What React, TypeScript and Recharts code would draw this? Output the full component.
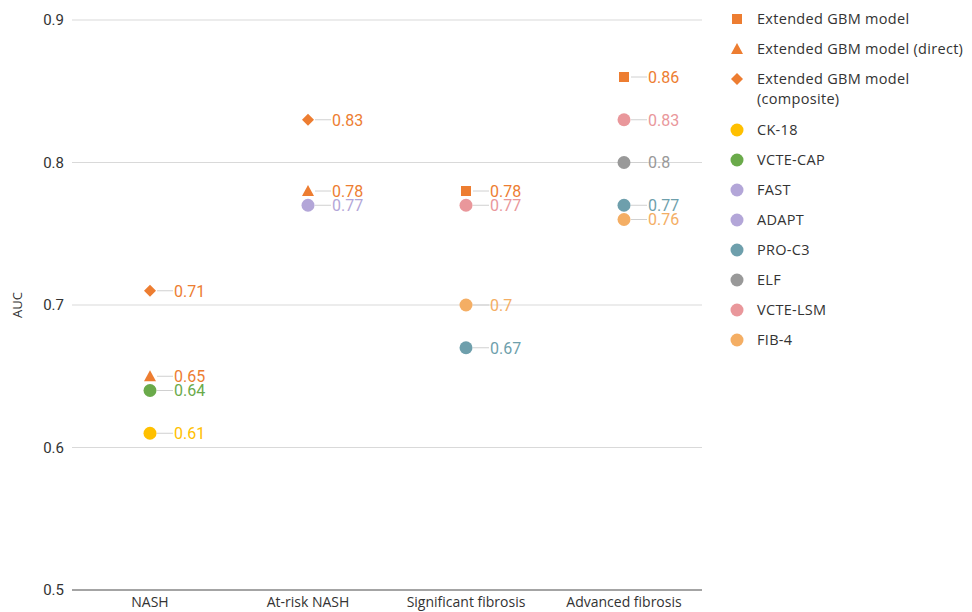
import React from "react";
import { CartesianGrid, ComposedChart, Line, XAxis, YAxis } from "recharts";

const categories = ["NASH", "At-risk NASH", "Significant fibrosis", "Advanced fibrosis"];
const yTicks = [0.5, 0.6, 0.7, 0.8, 0.9];

// one value per category, null = not reported
const gbmModel = [null, null, 0.78, 0.86];
const gbmDirect = [0.65, 0.78, null, null];
const gbmComposite = [0.71, 0.83, null, null];
const ck18 = [0.61, null, null, null];
const vcteCap = [0.64, null, null, null];
const fast = [null, 0.77, null, null];
const adapt = [null, null, null, null];
const proC3 = [null, null, 0.67, 0.77];
const elf = [null, null, null, 0.8];
const vcteLsm = [null, null, 0.77, 0.83];
const fib4 = [null, null, 0.7, 0.76];

type Shape = "square" | "triangle" | "diamond" | "circle";

const series: { key: string; name: string; shape: Shape; color: string; values: (number | null)[] }[] = [
  { key: "gbm", name: "Extended GBM model", shape: "square", color: "#ed7d31", values: gbmModel },
  { key: "gbmDirect", name: "Extended GBM model (direct)", shape: "triangle", color: "#ed7d31", values: gbmDirect },
  { key: "gbmComposite", name: "Extended GBM model (composite)", shape: "diamond", color: "#ed7d31", values: gbmComposite },
  { key: "ck18", name: "CK-18", shape: "circle", color: "#ffc000", values: ck18 },
  { key: "vcteCap", name: "VCTE-CAP", shape: "circle", color: "#6aaa4a", values: vcteCap },
  { key: "fast", name: "FAST", shape: "circle", color: "#b3a6d8", values: fast },
  { key: "adapt", name: "ADAPT", shape: "circle", color: "#b3a6d8", values: adapt },
  { key: "proC3", name: "PRO-C3", shape: "circle", color: "#6e9fac", values: proC3 },
  { key: "elf", name: "ELF", shape: "circle", color: "#999999", values: elf },
  { key: "vcteLsm", name: "VCTE-LSM", shape: "circle", color: "#e9979b", values: vcteLsm },
  { key: "fib4", name: "FIB-4", shape: "circle", color: "#f4ae64", values: fib4 },
];

const rows = categories.map((cat, i) => {
  const row: Record<string, string | number | null> = { cat };
  series.forEach((s) => {
    row[s.key] = s.values[i];
  });
  return row;
});

function Marker({ shape, color, x, y }: { shape: Shape; color: string; x: number; y: number }) {
  if (shape === "square") return <rect x={x - 5} y={y - 5} width={10} height={10} fill={color} />;
  if (shape === "triangle")
    return <polygon points={`${x},${y - 6} ${x + 6},${y + 5} ${x - 6},${y + 5}`} fill={color} />;
  if (shape === "diamond")
    return <polygon points={`${x},${y - 6} ${x + 6},${y} ${x},${y + 6} ${x - 6},${y}`} fill={color} />;
  return <circle cx={x} cy={y} r={6.5} fill={color} />;
}

function makeDot(s: (typeof series)[number]) {
  // eslint-disable-next-line @typescript-eslint/no-explicit-any
  return (props: any) => {
    const { cx, cy, payload, index } = props;
    const v = payload?.[s.key];
    if (v === null || v === undefined || cx == null || cy == null) return <g key={`${s.key}-${index}`} />;
    return (
      <g key={`${s.key}-${index}`}>
        <line x1={cx + 7} y1={cy} x2={cx + 23} y2={cy} stroke="#d0d0d0" strokeWidth={1} />
        <Marker shape={s.shape} color={s.color} x={cx} y={cy} />
        <text
          x={cx + 24}
          y={cy}
          dy="0.36em"
          fill={s.color}
          fontSize={16}
          fontFamily="Roboto, sans-serif"
        >
          {String(v)}
        </text>
      </g>
    );
  };
}

const legendRows = [19, 49, 79, 130, 160, 190, 220, 250, 280, 310, 340];

export default function App() {
  return (
    <div style={{ position: "absolute", left: 0, top: 0, width: 972, height: 612, background: "#fff" }}>
      <ComposedChart
        width={972}
        height={612}
        data={rows}
        margin={{ top: 20, right: 270, bottom: 0, left: 0 }}
      >
        <CartesianGrid horizontal vertical={false} stroke="#d9d9d9" strokeWidth={1.2} />
        <XAxis
          dataKey="cat"
          height={22}
          padding={{ left: 78, right: 78 }}
          tickLine={false}
          axisLine={{ stroke: "#8c8c8c", strokeWidth: 1.5 }}
          tick={{ fill: "#333", fontSize: 14, fontFamily: "'Liberation Sans Narrow', 'Open Sans', sans-serif" }}
          tickMargin={1}
          interval={0}
        />
        <YAxis
          domain={[0.5, 0.9]}
          ticks={yTicks}
          width={72}
          axisLine={false}
          tickLine={false}
          tick={{ fill: "#333", fontSize: 15, fontFamily: "Roboto, sans-serif" }}
          tickFormatter={(v: number) => String(v)}
          label={{
            value: "AUC",
            angle: -90,
            position: "insideLeft",
            offset: 17,
            style: { fill: "#333", fontSize: 13, fontFamily: "'Open Sans', sans-serif", textAnchor: "middle" },
          }}
        />
        {series.map((s) => (
          <Line
            key={s.key}
            dataKey={s.key}
            name={s.name}
            stroke="none"
            connectNulls={false}
            dot={makeDot(s)}
            activeDot={false}
            isAnimationActive={false}
          />
        ))}
      </ComposedChart>
      <div style={{ position: "absolute", left: 0, top: 0, width: 972, height: 612, pointerEvents: "none" }}>
        {series.map((s, i) => (
          <div
            key={s.key}
            style={{
              position: "absolute",
              left: 728,
              top: legendRows[i] - 10,
              display: "flex",
              alignItems: "flex-start",
              fontFamily: "'Open Sans', sans-serif",
              fontSize: 14.5,
              letterSpacing: 0.3,
              lineHeight: "20px",
              color: "#333",
            }}
          >
            <svg width={20} height={20} style={{ flex: "none" }}>
              <Marker shape={s.shape} color={s.color} x={9} y={10} />
            </svg>
            <span style={{ marginLeft: 9, width: 214 }}>{s.name}</span>
          </div>
        ))}
      </div>
    </div>
  );
}
